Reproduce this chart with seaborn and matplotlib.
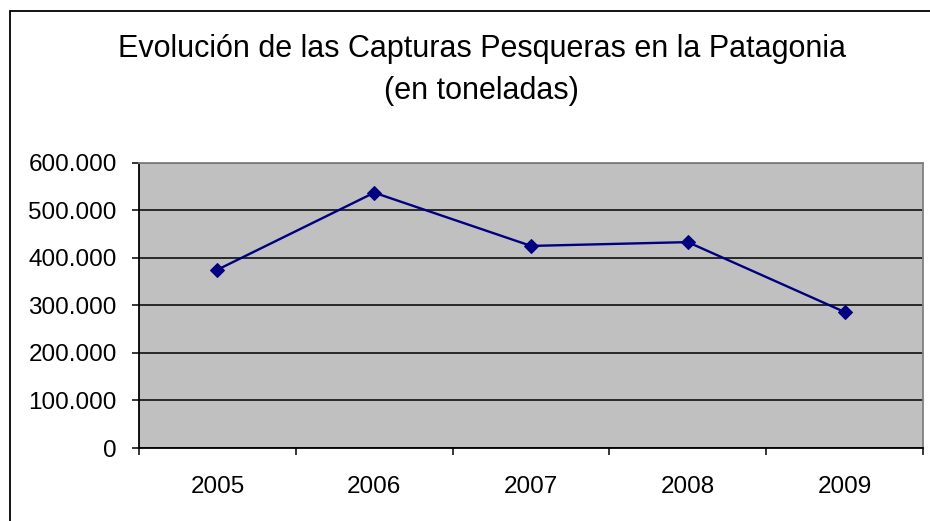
import numpy as np
import pandas as pd
import matplotlib
matplotlib.use("Agg")
import matplotlib.pyplot as plt
import matplotlib.ticker as mticker
from matplotlib.patches import Rectangle
import seaborn as sns

# data
years = ["2005", "2006", "2007", "2008", "2009"]
capturas = [375000, 537000, 425000, 433000, 286000]

df = pd.DataFrame({"anio": years, "toneladas": capturas})

sns.set_style("white")
plt.rcParams["font.family"] = ["Liberation Sans", "DejaVu Sans"]
plt.rcParams["text.color"] = "black"
plt.rcParams["xtick.color"] = "black"
plt.rcParams["ytick.color"] = "black"

fig = plt.figure(figsize=(9.3, 5.21), dpi=100)
ax = fig.add_axes([0.1495, 0.1401, 0.843, 0.5476])
ax.set_facecolor("#C0C0C0")

sns.lineplot(data=df, x="anio", y="toneladas", ax=ax, color="#000080",
             marker="D", markersize=7, markeredgecolor="#000080",
             linewidth=1.7, zorder=3)

ax.set_xlim(-0.5, 4.5)
ax.set_ylim(0, 600000)
ax.yaxis.set_major_locator(mticker.MultipleLocator(100000))
ax.yaxis.set_major_formatter(mticker.FuncFormatter(lambda v, p: f"{int(v):,}".replace(",", ".")))
ax.grid(axis="y", color="black", linewidth=1.1, zorder=1)
ax.set_axisbelow(True)

# ticks between categories on x, labels centred
ax.set_xticks(np.arange(-0.5, 5, 1), minor=True)
ax.tick_params(axis="x", which="major", length=0, pad=20, labelsize=17.5)
ax.tick_params(axis="x", which="minor", length=5, width=1.1, direction="out", color="black", bottom=True)
ax.tick_params(axis="y", length=5, width=1.1, direction="out", pad=11, labelsize=17.5, left=True)

ax.set_xlabel("")
ax.set_ylabel("")

for s in ["left", "bottom"]:
    ax.spines[s].set_color("black")
    ax.spines[s].set_linewidth(1.3)
for s in ["top", "right"]:
    ax.spines[s].set_color("#808080")
    ax.spines[s].set_linewidth(1.3)

fig.text(0.518, 0.866, "Evolución de las Capturas Pesqueras en la Patagonia\n(en toneladas)",
         ha="center", va="center", fontsize=22, linespacing=1.5, color="black")

# outer chart frame (runs past right/bottom edge as in the reference)
fig.patches.append(Rectangle((9.5 / 930, -0.2), 1.2, 0.978 + 0.2, transform=fig.transFigure,
                             fill=False, edgecolor="black", linewidth=1.3))

fig.savefig("out.png", dpi=100)
